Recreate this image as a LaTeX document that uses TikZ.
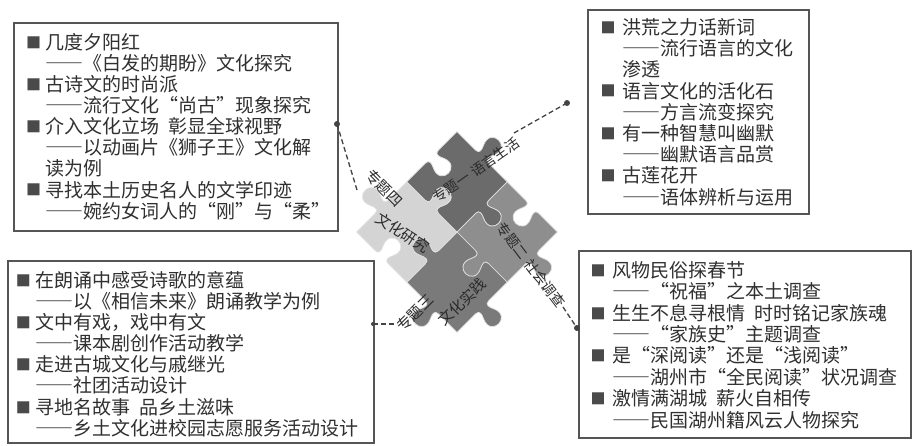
\documentclass[tikz,border=0pt]{standalone}
\usepackage{fontspec}
\setmainfont{Noto Sans CJK SC}[RawFeature=+fwid]
\usetikzlibrary{calc}
\definecolor{txtc}{HTML}{303030}
\definecolor{framec}{HTML}{555555}
\definecolor{bulc}{HTML}{4A4A4A}
\definecolor{connc}{HTML}{444444}
\definecolor{ptxtc}{HTML}{2A2A2A}
\definecolor{pA}{HTML}{6B6B6B}
\definecolor{pB}{HTML}{8E8E8E}
\definecolor{pC}{HTML}{7A7A7A}
\definecolor{pD}{HTML}{D4D4D4}
\newcommand\kedge[3]{%
 -- ($(#1)+0.37*(#2)$)
 .. controls ($(#1)+0.45*(#2)$) and ($(#1)+0.43*(#2)+0.07*(#3)$) .. ($(#1)+0.40*(#2)+0.13*(#3)$)
 .. controls ($(#1)+0.34*(#2)+0.26*(#3)$) and ($(#1)+0.42*(#2)+0.33*(#3)$) .. ($(#1)+0.5*(#2)+0.33*(#3)$)
 .. controls ($(#1)+0.58*(#2)+0.33*(#3)$) and ($(#1)+0.66*(#2)+0.26*(#3)$) .. ($(#1)+0.60*(#2)+0.13*(#3)$)
 .. controls ($(#1)+0.57*(#2)+0.07*(#3)$) and ($(#1)+0.55*(#2)$) .. ($(#1)+0.63*(#2)$)
 -- ($(#1)+(#2)$)}
\tikzset{
 boxst/.style={draw=framec, line width=1.6pt, rectangle, inner sep=0pt, anchor=north west},
 ln/.style={anchor=west, inner sep=0pt, text=txtc, font=\fontsize{19}{21}\selectfont},
 bulst/.style={anchor=center, inner sep=0pt, text=bulc, font=\fontsize{15}{15}\selectfont},
 ptxt/.style={text=ptxtc, font=\fontsize{14}{14}\selectfont, inner sep=0pt},
 conn/.style={draw=connc, line width=1.3pt, dash pattern=on 5pt off 3pt},
 dotst/.style={circle, fill=connc, inner sep=0pt, minimum size=6pt},
 piece/.style={draw=white!88!black, line width=0.7pt}
}
\begin{document}
\begin{tikzpicture}[x=1pt,y=-1pt]
\useasboundingbox[fill=white] (0,0) rectangle (913,445);

% boxes
\node[boxst, minimum width=324, minimum height=208] (b1) at (13,22) {};
\node[boxst, minimum width=221, minimum height=204] (b2) at (587,9) {};
\node[boxst, minimum width=366, minimum height=182] (b3) at (7,260) {};
\node[boxst, minimum width=332, minimum height=187] (b4) at (578,250) {};

% box 1 lines
\foreach \b/\t [count=\i] in {1/几度夕阳红, 0/——《白发的期盼》文化探究, 1/古诗文的时尚派, 0/——流行文化“尚古”现象探究, 1/介入文化立场\hspace{0.5em}彰显全球视野, 0/——以动画片《狮子王》文化解, 0/读为例, 1/寻找本土历史名人的文学印迹, 0/——婉约女词人的“刚”与“柔”}{
  \node[ln] (ta\i) at (45,{42+(\i-1)*21.1}) {\t};
  \ifnum\b=1 \node[bulst] (ma\i) at (33.5,{42.5+(\i-1)*21.1}) {■};\fi
}
% box 2 lines
\foreach \b/\t [count=\i] in {1/洪荒之力话新词, 0/——流行语言的文化, 0/渗透, 1/语言文化的活化石, 0/——方言流变探究, 1/有一种智慧叫幽默, 0/——幽默语言品赏, 1/古莲花开, 0/——语体辨析与运用}{
  \node[ln] (tb\i) at (622,{27+(\i-1)*21.25}) {\t};
  \ifnum\b=1 \node[bulst] (mb\i) at (608,{27.5+(\i-1)*21.25}) {■};\fi
}
% box 3 lines
\foreach \b/\t [count=\i] in {1/在朗诵中感受诗歌的意蕴, 0/——以《相信未来》朗诵教学为例, 1/文中有戏，戏中有文, 0/——课本剧创作活动教学, 1/走进古城文化与戚继光, 0/——社团活动设计, 1/寻地名故事\hspace{0.5em}品乡土滋味, 0/——乡土文化进校园志愿服务活动设计}{
  \node[ln] (tc\i) at (35,{280+(\i-1)*21.15}) {\t};
  \ifnum\b=1 \node[bulst] (mc\i) at (23.5,{280.5+(\i-1)*21.15}) {■};\fi
}
% box 4 lines
\foreach \b/\t [count=\i] in {1/风物民俗探春节, 0/——“祝福”之本土调查, 1/生生不息寻根情\hspace{0.5em}时时铭记家族魂, 0/——“家族史”主题调查, 1/是“深阅读”还是“浅阅读”, 0/——湖州市“全民阅读”状况调查, 1/激情满湖城\hspace{0.5em}薪火自相传, 0/——民国湖州籍风云人物探究}{
  \node[ln] (td\i) at (612,{270+(\i-1)*21.4}) {\t};
  \ifnum\b=1 \node[bulst] (md\i) at (598,{270.5+(\i-1)*21.4}) {■};\fi
}

% puzzle
\begin{scope}[transform canvas={shift={(457,232)},rotate=-45}]
\fill[pA, piece] (-71,-71) \kedge{-71,-71}{71,0}{0,-71} \kedge{0,-71}{0,71}{71,0} \kedge{0,0}{-71,0}{0,-71} \kedge{-71,0}{0,-71}{71,0} -- cycle;
\fill[pB, piece] (0,-71) \kedge{0,-71}{71,0}{0,71} \kedge{71,-71}{0,71}{71,0} \kedge{71,0}{-71,0}{0,71} \kedge{0,0}{0,-71}{71,0} -- cycle;
\fill[pC, piece] (0,0) \kedge{0,0}{71,0}{0,71} \kedge{71,0}{0,71}{71,0} \kedge{71,71}{-71,0}{0,71} \kedge{0,71}{0,-71}{-71,0} -- cycle;
\fill[pD, piece] (-71,0) \kedge{-71,0}{71,0}{0,-71} \kedge{0,0}{0,71}{-71,0} \kedge{0,71}{-71,0}{0,-71} \kedge{-71,71}{0,-71}{-71,0} -- cycle;
\end{scope}

\node[ptxt, rotate=35] (t1) at (476,170) {专题一\hspace{0.3em}语言生活};
\node[ptxt, rotate=-53] (t2) at (531,265) {专题二\hspace{0.3em}社会调查};
\node[ptxt, font=\fontsize{15}{15}\selectfont, rotate=45] (t3a) at (415,313) {专题三};
\node[ptxt, font=\fontsize{15}{15}\selectfont, rotate=44] (t3b) at (462,302) {文化实践};
\node[ptxt, font=\fontsize{15}{15}\selectfont, rotate=-45] (t4a) at (384,188) {专题四};
\node[ptxt, font=\fontsize{15}{15}\selectfont, rotate=-33] (t4b) at (403,233) {文化研究};

% connectors
\node[dotst] (d1) at (337,124) {};
\coordinate (e1) at (357,190);
\node[dotst] (d2) at (567,103) {};
\coordinate (e2) at (514,133);
\node[dotst, minimum size=4pt] (d3) at (373,324) {};
\coordinate (e3) at (397,324);
\node[dotst] (d4) at (577,328) {};
\coordinate (e4) at (563,307);
\draw[conn] (d1.center) -- (e1);
\draw[conn] (e2) -- (d2.center);
\draw[conn] (d3.center) -- (e3);
\draw[conn] (e4) -- (d4.center);
\end{tikzpicture}
\end{document}
